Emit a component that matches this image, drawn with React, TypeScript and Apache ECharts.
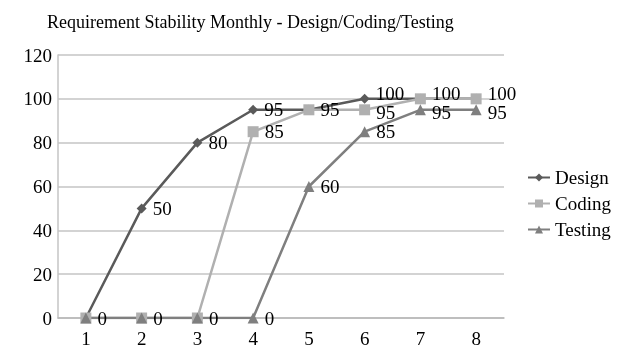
import React, { useEffect, useRef } from "react";
import * as echarts from "echarts";

const months = ["1", "2", "3", "4", "5", "6", "7", "8"];
const design = [0, 50, 80, 95, 95, 100, 100, 100];
const coding = [0, 0, 0, 85, 95, 95, 100, 100];
const testing = [0, 0, 0, 0, 60, 85, 95, 95];
// indices whose labels coincide with another series' label (drawn once, as in the reference)
const designHidden = [0, 4, 6, 7];
const codingHidden: number[] = [];
const testingHidden = [0, 1, 2];

const FONT = "Liberation Serif";

export default function App() {
  const ref = useRef<HTMLDivElement>(null);
  useEffect(() => {
    if (!ref.current) return;
    const chart = echarts.init(ref.current, undefined, { renderer: "svg" });
    const label = {
      show: true,
      position: "right",
      distance: 6,
      color: "#000",
      fontFamily: FONT,
      fontSize: 19,
    };
    const mk = (name: string, data: number[], hidden: number[], color: string, symbol: string, size: number) => ({
      name,
      type: "line",
      data: data.map((v, i) => {
        if (hidden.includes(i)) return { value: v, label: { show: false } };
        if (v === 100) return { value: v, label: { offset: [0, -5] } };
        if (v === 95 && i >= 5) return { value: v, label: { offset: [0, 3] } };
        return v;
      }),
      symbol,
      symbolSize: size,
      lineStyle: { color, width: 2.5 },
      itemStyle: { color },
      label,
    });
    chart.setOption({
      animation: false,
      textStyle: { fontFamily: FONT },
      title: {
        text: "Requirement Stability Monthly - Design/Coding/Testing",
        left: 42,
        top: 8,
        textStyle: { fontFamily: FONT, fontSize: 18, fontWeight: "normal", color: "#000" },
      },
      legend: {
        orient: "vertical",
        left: 522,
        top: 163,
        itemWidth: 22,
        itemHeight: 10,
        itemGap: 7,
        textStyle: { fontFamily: FONT, fontSize: 19, color: "#000" },
        data: ["Design", "Coding", "Testing"],
      },
      grid: { left: 58, top: 55, width: 446, height: 263, containLabel: false },
      xAxis: {
        type: "category",
        data: months,
        boundaryGap: true,
        axisLine: { lineStyle: { color: "#b8b8b8", width: 1.5 } },
        axisTick: { show: false },
        axisLabel: { color: "#000", fontFamily: FONT, fontSize: 19, margin: 11 },
      },
      yAxis: {
        type: "value",
        min: 0,
        max: 120,
        interval: 20,
        axisLine: { show: true, lineStyle: { color: "#c4c4c4", width: 1.5 } },
        axisTick: { show: false },
        splitLine: { lineStyle: { color: "#c4c4c4", width: 1.5 } },
        axisLabel: { color: "#000", fontFamily: FONT, fontSize: 19, margin: 6 },
      },
      series: [
        mk("Design", design, designHidden, "#5a5a5a", "diamond", 10),
        mk("Coding", coding, codingHidden, "#b0b0b0", "rect", 11),
        mk("Testing", testing, testingHidden, "#7f7f7f", "triangle", 11),
      ],
    });
    return () => chart.dispose();
  }, []);
  return (
    <div
      ref={ref}
      style={{ position: "fixed", left: 0, top: 0, width: 631, height: 351 }}
    />
  );
}
